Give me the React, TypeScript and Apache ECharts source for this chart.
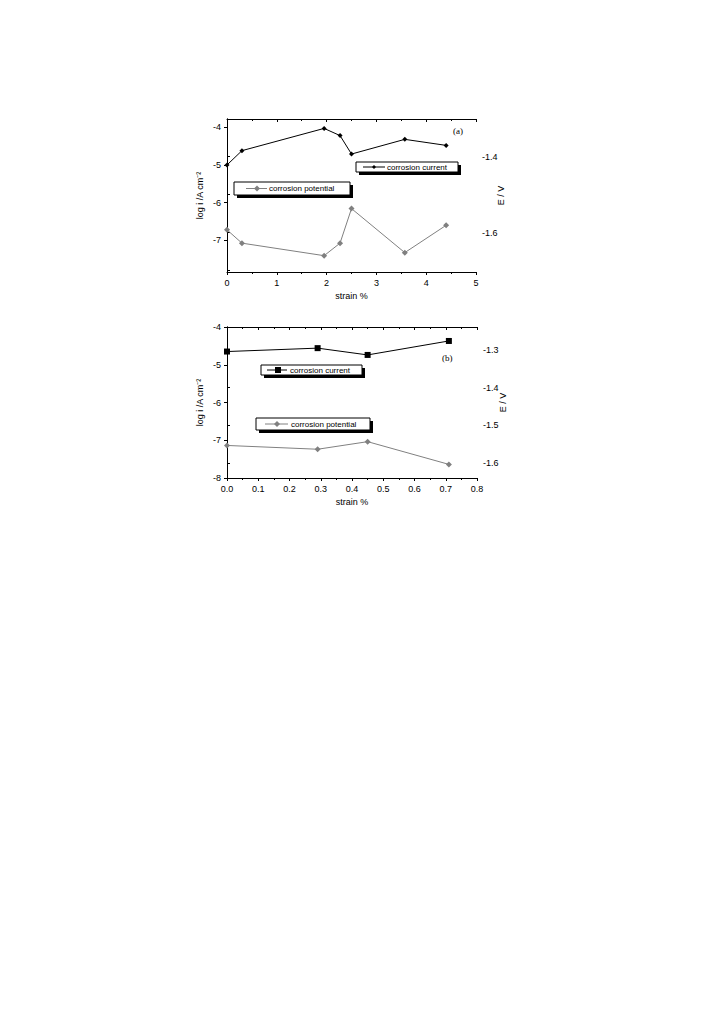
import React, { useEffect, useRef } from "react";
import * as echarts from "echarts";

// ---- data (a) ----
const strainA = [0, 0.3, 1.95, 2.27, 2.5, 3.57, 4.4];
const currentA = [-5.0, -4.62, -4.03, -4.22, -4.71, -4.32, -4.48];
const potentialA = [-1.593, -1.628, -1.661, -1.628, -1.537, -1.653, -1.581];
const leftTicksA = [-7, -6, -5, -4];
const rightTicksA = [-1.7, -1.6, -1.5, -1.4, -1.3];
const rightLabelsA = [-1.6, -1.4];

// ---- data (b) ----
const strainB = [0, 0.29, 0.45, 0.71];
const currentB = [-4.65, -4.56, -4.74, -4.37];
const potentialB = [-1.553, -1.563, -1.543, -1.603];
const rightTicksB = [-1.6, -1.5, -1.4, -1.3];

const FONT = "Liberation Sans, Arial, sans-serif";
const GREY = "#808080";

const lbl = { fontSize: 9, color: "#000", fontFamily: FONT };
const axLine = { show: true, lineStyle: { color: "#000", width: 1 } };
const tick = (inside: boolean) => ({ show: true, inside, length: 3, lineStyle: { color: "#000", width: 1 } });
const minor = (n: number) => ({ show: true, splitNumber: n, length: 2, lineStyle: { color: "#000", width: 1 } });

function legendBox(
  x: number, y: number, w: number, h: number,
  lineX1: number, lineX2: number, markX: number,
  marker: "diamondS" | "diamond" | "square", color: string, text: string, textX: number
) {
  const cy = y + h / 2;
  const els: any[] = [
    { type: "rect", shape: { x: x + 3, y: y + 3, width: w, height: h }, style: { fill: "#000" }, z: 10 },
    { type: "rect", shape: { x, y, width: w, height: h }, style: { fill: "#fff", stroke: "#000", lineWidth: 1 }, z: 11 },
    { type: "line", shape: { x1: lineX1, y1: cy, x2: lineX2, y2: cy }, style: { stroke: color, lineWidth: 1 }, z: 12 },
    { type: "text", x: textX, y: cy, style: { text, fill: "#000", font: `8px ${FONT}`, textVerticalAlign: "middle", verticalAlign: "middle" }, z: 12 },
  ];
  if (marker === "square") {
    els.push({ type: "rect", shape: { x: markX - 3, y: cy - 3, width: 6, height: 6 }, style: { fill: color }, z: 13 });
  } else {
    const r = marker === "diamond" ? 3 : 2;
    els.push({
      type: "polygon",
      shape: { points: [[markX, cy - r], [markX + r, cy], [markX, cy + r], [markX - r, cy]] },
      style: { fill: color },
      z: 13,
    });
  }
  return els;
}

export default function App() {
  const ref = useRef<HTMLDivElement>(null);
  useEffect(() => {
    if (!ref.current) return;
    const chart = echarts.init(ref.current, undefined, { renderer: "svg" });
    const xName = (gap: number) => ({
      name: "strain %",
      nameLocation: "middle",
      nameGap: gap,
      nameTextStyle: { fontSize: 9, color: "#000", fontFamily: FONT },
    });
    const yName = (name: string, gap: number) => ({
      name,
      nameLocation: "middle",
      nameGap: gap,
      nameRotate: 90,
      nameMoveOverlap: false,
      nameTextStyle: { fontSize: 9, color: "#000", fontFamily: FONT },
    });
    const option: any = {
      animation: false,
      backgroundColor: "#fff",
      grid: [
        { left: 227, top: 119, width: 249, height: 153 },
        { left: 227, top: 327, width: 250, height: 151 },
      ],
      xAxis: [
        {
          gridIndex: 0, type: "value", min: 0, max: 5, interval: 1, position: "bottom",
          axisLine: axLine, axisTick: tick(false), minorTick: minor(2), splitLine: { show: false },
          axisLabel: { ...lbl, margin: 6 }, ...xName(19),
        },
        {
          gridIndex: 0, type: "value", min: 0, max: 5, interval: 1, position: "top",
          axisLine: axLine, axisTick: tick(true), minorTick: minor(2), splitLine: { show: false },
          axisLabel: { show: false },
        },
        {
          gridIndex: 1, type: "value", min: 0, max: 0.8, interval: 0.1, position: "bottom",
          axisLine: axLine, axisTick: tick(false), minorTick: minor(2), splitLine: { show: false },
          axisLabel: { ...lbl, margin: 6, formatter: (v: number) => v.toFixed(1) }, ...xName(19),
        },
        {
          gridIndex: 1, type: "value", min: 0, max: 0.8, interval: 0.1, position: "top",
          axisLine: axLine, axisTick: tick(true), minorTick: minor(2), splitLine: { show: false },
          axisLabel: { show: false },
        },
      ],
      yAxis: [
        {
          gridIndex: 0, type: "value", min: -7.84, max: -3.78, position: "left",
          axisLine: axLine,
          axisTick: { ...tick(false), customValues: leftTicksA },
          axisLabel: { ...lbl, margin: 6, customValues: leftTicksA },
          splitLine: { show: false },
          ...yName("log i /A cm⁻²", 23),
        },
        {
          gridIndex: 0, type: "value", min: -1.704, max: -1.301, position: "right",
          axisLine: axLine,
          axisTick: { ...tick(false), customValues: rightTicksA },
          axisLabel: { ...lbl, margin: 6, customValues: rightLabelsA, formatter: (v: number) => v.toFixed(1) },
          splitLine: { show: false },
          ...yName("E / V", 20),
        },
        {
          gridIndex: 1, type: "value", min: -8, max: -4, interval: 1, position: "left",
          axisLine: axLine, axisTick: tick(false), splitLine: { show: false },
          axisLabel: { ...lbl, margin: 6 },
          ...yName("log i /A cm⁻²", 23),
        },
        {
          gridIndex: 1, type: "value", min: -1.639, max: -1.24, position: "right",
          axisLine: axLine,
          axisTick: { ...tick(false), customValues: rightTicksB },
          axisLabel: { ...lbl, margin: 6, customValues: rightTicksB, formatter: (v: number) => v.toFixed(1) },
          splitLine: { show: false },
          ...yName("E / V", 21),
        },
      ],
      series: [
        {
          name: "corrosion current", type: "line", xAxisIndex: 0, yAxisIndex: 0,
          data: strainA.map((s, i) => [s, currentA[i]]),
          symbol: "diamond", symbolSize: 5, itemStyle: { color: "#000" }, lineStyle: { color: "#000", width: 1 },
        },
        {
          name: "corrosion potential", type: "line", xAxisIndex: 0, yAxisIndex: 1,
          data: strainA.map((s, i) => [s, potentialA[i]]),
          symbol: "diamond", symbolSize: 6, itemStyle: { color: GREY }, lineStyle: { color: GREY, width: 1 },
        },
        {
          name: "corrosion current", type: "line", xAxisIndex: 2, yAxisIndex: 2,
          data: strainB.map((s, i) => [s, currentB[i]]),
          symbol: "rect", symbolSize: 6, itemStyle: { color: "#000" }, lineStyle: { color: "#000", width: 1 },
        },
        {
          name: "corrosion potential", type: "line", xAxisIndex: 2, yAxisIndex: 3,
          data: strainB.map((s, i) => [s, potentialB[i]]),
          symbol: "diamond", symbolSize: 6, itemStyle: { color: GREY }, lineStyle: { color: GREY, width: 1 },
        },
      ],
      graphic: [
        ...legendBox(356, 162, 102, 10, 363, 385, 374, "diamondS", "#000", "corrosion current", 387),
        ...legendBox(234, 182, 116, 13, 246, 267, 257, "diamond", GREY, "corrosion potential", 269),
        ...legendBox(261, 365, 101, 10, 267, 287, 278, "square", "#000", "corrosion current", 290),
        ...legendBox(256, 418, 114, 12, 265, 288, 277, "diamond", GREY, "corrosion potential", 291),
        { type: "text", x: 453, y: 131, style: { text: "(a)", fill: "#000", font: "9px Liberation Serif, serif", verticalAlign: "middle", textVerticalAlign: "middle" } },
        { type: "text", x: 442, y: 358, style: { text: "(b)", fill: "#000", font: "9px Liberation Serif, serif", verticalAlign: "middle", textVerticalAlign: "middle" } },
      ],
    };
    chart.setOption(option);
    return () => chart.dispose();
  }, []);
  return <div ref={ref} style={{ position: "absolute", left: 0, top: 0, width: 702, height: 1020 }} />;
}
